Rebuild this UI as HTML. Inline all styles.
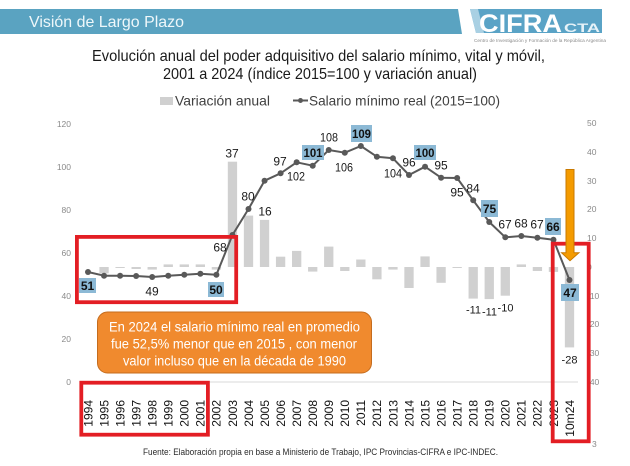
<!DOCTYPE html>
<html><head><meta charset="utf-8"><style>
html,body{margin:0;padding:0;background:#fff;}
svg{display:block;}
text{font-family:"Liberation Sans",Arial,sans-serif;}
</style></head><body>
<svg width="630" height="466" viewBox="0 0 630 466" xmlns="http://www.w3.org/2000/svg">
<rect width="630" height="466" fill="#fff"/>
<!-- header band -->
<polygon points="0,9 458,9 462,34 0,34" fill="#5AA3C1"/>
<text x="29" y="27" font-size="16" fill="#eef7fa" textLength="155" lengthAdjust="spacingAndGlyphs">Visión de Largo Plazo</text>
<!-- logo -->
<polygon points="470,9 602,9 602,33 476,33" fill="#5AA3C6"/>
<polygon points="470,9 478,9 484,33 476,33" fill="#a9d0e3"/>
<text x="479" y="32" font-size="25" font-weight="bold" fill="#fff" textLength="83" lengthAdjust="spacingAndGlyphs">CIFRA</text>
<text x="564" y="32" font-size="12" font-weight="bold" fill="#e6f2f8" textLength="36" lengthAdjust="spacingAndGlyphs">CTA</text>
<text x="474" y="42" font-size="4.5" fill="#8a8a8a" textLength="132" lengthAdjust="spacingAndGlyphs">Centro de Investigación y Formación de la República Argentina</text>
<!-- title -->
<text x="92" y="61" font-size="16" fill="#1a1a1a" textLength="453" lengthAdjust="spacingAndGlyphs">Evolución anual del poder adquisitivo del salario mínimo, vital y móvil,</text>
<text x="163" y="79" font-size="16" fill="#1a1a1a" textLength="314" lengthAdjust="spacingAndGlyphs">2001 a 2024 (índice 2015=100 y variación anual)</text>
<!-- legend -->
<rect x="160" y="97" width="13" height="8" fill="#d0d0d0"/>
<text x="175" y="105.5" font-size="14" fill="#404040" textLength="95" lengthAdjust="spacingAndGlyphs">Variación anual</text>
<line x1="293" y1="100.5" x2="308" y2="100.5" stroke="#595959" stroke-width="2"/>
<circle cx="300.5" cy="100.5" r="2.5" fill="#595959"/>
<text x="309" y="105.5" font-size="14" fill="#404040" textLength="191" lengthAdjust="spacingAndGlyphs">Salario mínimo real (2015=100)</text>
<!-- left axis labels -->
<g font-size="8.5" fill="#8a8a8a" text-anchor="end">
<text x="71" y="127">120</text>
<text x="71" y="170">100</text>
<text x="71" y="213">80</text>
<text x="71" y="256">60</text>
<text x="71" y="299">40</text>
<text x="71" y="342">20</text>
<text x="71" y="385">0</text>
</g>
<!-- right axis labels -->
<g font-size="8.5" fill="#8a8a8a">
<text x="587" y="126">50</text>
<text x="587" y="155">40</text>
<text x="587" y="184">30</text>
<text x="587" y="212">20</text>
<text x="587" y="241">10</text>
<text x="587" y="270">0</text>
<text x="587" y="299">-10</text>
<text x="587" y="327">-20</text>
<text x="587" y="356">-30</text>
<text x="587" y="385">-40</text>
<text x="592" y="447">3</text>
</g>
<!-- gridline -->
<line x1="80" y1="382" x2="578" y2="382" stroke="#d9d9d9" stroke-width="1"/>
<!-- bars -->
<g fill="#d0d0d0">
<rect x="99.4" y="267" width="9.3" height="6.3"/>
<rect x="115.45" y="267" width="9.3" height="1"/>
<rect x="131.5" y="267" width="9.3" height="2"/>
<rect x="147.55" y="267" width="9.3" height="2.6"/>
<rect x="163.6" y="264.4" width="9.3" height="2.6"/>
<rect x="179.65" y="264.4" width="9.3" height="2.6"/>
<rect x="195.7" y="264.4" width="9.3" height="2.6"/>
<rect x="211.75" y="267" width="9.3" height="2.6"/>
<rect x="227.8" y="161.7" width="9.3" height="105.3"/>
<rect x="243.85" y="215.6" width="9.3" height="51.4"/>
<rect x="259.9" y="219.9" width="9.3" height="47.1"/>
<rect x="275.95" y="256.7" width="9.3" height="10.3"/>
<rect x="292" y="250.9" width="9.3" height="16.1"/>
<rect x="308.05" y="267" width="9.3" height="4.6"/>
<rect x="324.1" y="246.6" width="9.3" height="20.4"/>
<rect x="340.15" y="267" width="9.3" height="4"/>
<rect x="356.2" y="259.5" width="9.3" height="7.5"/>
<rect x="372.25" y="267" width="9.3" height="12.3"/>
<rect x="388.3" y="267" width="9.3" height="2.6"/>
<rect x="404.35" y="267" width="9.3" height="21"/>
<rect x="420.4" y="256.4" width="9.3" height="10.6"/>
<rect x="436.45" y="267" width="9.3" height="15.8"/>
<rect x="452.5" y="267" width="9.3" height="1"/>
<rect x="468.55" y="267" width="9.3" height="31.6"/>
<rect x="484.6" y="267" width="9.3" height="32.1"/>
<rect x="500.65" y="267" width="9.3" height="28.7"/>
<rect x="516.7" y="264.4" width="9.3" height="2.6"/>
<rect x="532.75" y="267" width="9.3" height="4"/>
<rect x="548.8" y="267" width="9.3" height="4.9"/>
<rect x="564.85" y="267" width="9.3" height="80.4"/>
</g>
<!-- line -->
<polyline fill="none" stroke="#595959" stroke-width="2" stroke-linejoin="round" points="88,272 104.05,275.7 120.1,275.7 136.15,276 152.2,277 168.25,275.7 184.3,274.7 200.35,273.7 216.4,274.7 232.45,235 248.5,209 264.55,180.7 280.6,173.3 296.65,162.3 312.7,165.7 328.75,150 344.8,152.7 360.85,146 376.9,156.7 392.95,158.3 409,175 425.05,166.7 441.1,177.7 457.15,178 473.2,200.3 489.25,222 505.3,237.3 521.35,236 537.4,237.7 553.45,239.7 569.5,280"/>
<g fill="#595959">
<circle cx="88" cy="272" r="3"/><circle cx="104.05" cy="275.7" r="3"/><circle cx="120.1" cy="275.7" r="3"/><circle cx="136.15" cy="276" r="3"/><circle cx="152.2" cy="277" r="3"/><circle cx="168.25" cy="275.7" r="3"/><circle cx="184.3" cy="274.7" r="3"/><circle cx="200.35" cy="273.7" r="3"/><circle cx="216.4" cy="274.7" r="3"/><circle cx="232.45" cy="235" r="3"/><circle cx="248.5" cy="209" r="3"/><circle cx="264.55" cy="180.7" r="3"/><circle cx="280.6" cy="173.3" r="3"/><circle cx="296.65" cy="162.3" r="3"/><circle cx="312.7" cy="165.7" r="3"/><circle cx="328.75" cy="150" r="3"/><circle cx="344.8" cy="152.7" r="3"/><circle cx="360.85" cy="146" r="3"/><circle cx="376.9" cy="156.7" r="3"/><circle cx="392.95" cy="158.3" r="3"/><circle cx="409" cy="175" r="3"/><circle cx="425.05" cy="166.7" r="3"/><circle cx="441.1" cy="177.7" r="3"/><circle cx="457.15" cy="178" r="3"/><circle cx="473.2" cy="200.3" r="3"/><circle cx="489.25" cy="222" r="3"/><circle cx="505.3" cy="237.3" r="3"/><circle cx="521.35" cy="236" r="3"/><circle cx="537.4" cy="237.7" r="3"/><circle cx="553.45" cy="239.7" r="3"/><circle cx="569.5" cy="280" r="3"/>
</g>
<!-- data labels -->
<g font-size="12" fill="#1a1a1a" text-anchor="middle">
<text x="152" y="295.3">49</text>
<text x="220" y="251.3">68</text>
<text x="232" y="157.3">37</text>
<text x="248" y="200.3">80</text>
<text x="265" y="215.3">16</text>
<text x="280" y="165.3">97</text>
<text x="296" y="180.3" textLength="18" lengthAdjust="spacingAndGlyphs">102</text>
<text x="329" y="141.3" textLength="18" lengthAdjust="spacingAndGlyphs">108</text>
<text x="344" y="171.3" textLength="18" lengthAdjust="spacingAndGlyphs">106</text>
<text x="393" y="177.3" textLength="18" lengthAdjust="spacingAndGlyphs">104</text>
<text x="409" y="166.3">96</text>
<text x="441" y="169.3">95</text>
<text x="457" y="196.3">95</text>
<text x="473" y="192.3">84</text>
<text x="505" y="228.3">67</text>
<text x="521" y="227.3">68</text>
<text x="537" y="228.3">67</text>
<text x="473.5" y="313.3" font-size="11">-11</text>
<text x="489.5" y="315.3" font-size="11">-11</text>
<text x="505.5" y="311.3" font-size="11">-10</text>
<text x="569.5" y="363.3" font-size="11">-28</text>
</g>
<!-- boxed labels -->
<g fill="#8CB9D5">
<rect x="79" y="278" width="17" height="15"/>
<rect x="208" y="282" width="16" height="15"/>
<rect x="302" y="145" width="22" height="15"/>
<rect x="351" y="125" width="21" height="17"/>
<rect x="414" y="145" width="22" height="15"/>
<rect x="481" y="200" width="17" height="17"/>
<rect x="545" y="218" width="16" height="17"/>
<rect x="561" y="284" width="18" height="17"/>
</g>
<g font-size="12" font-weight="bold" fill="#111" text-anchor="middle">
<text x="87.5" y="290">51</text>
<text x="216" y="294">50</text>
<text x="313" y="157" textLength="19" lengthAdjust="spacingAndGlyphs">101</text>
<text x="361.5" y="138" textLength="19" lengthAdjust="spacingAndGlyphs">109</text>
<text x="425" y="157" textLength="19" lengthAdjust="spacingAndGlyphs">100</text>
<text x="489.5" y="213">75</text>
<text x="553" y="231">66</text>
<text x="570" y="297">47</text>
</g>
<!-- callout -->
<rect x="97.5" y="312" width="274" height="61" rx="10" ry="10" fill="#F08A2E" stroke="#C46C1E" stroke-width="1"/>
<g font-size="14" fill="#fff">
<text x="109" y="331.5" textLength="251" lengthAdjust="spacingAndGlyphs">En 2024 el salario mínimo real en promedio</text>
<text x="111" y="348.5" textLength="246" lengthAdjust="spacingAndGlyphs">fue 52,5% menor que en 2015 , con menor</text>
<text x="123" y="365.5" textLength="223" lengthAdjust="spacingAndGlyphs">valor incluso que en la década de 1990</text>
</g>
<!-- x labels -->
<g font-size="12" fill="#111" text-anchor="end">
<text transform="translate(92.3,400) rotate(-90)">1994</text>
<text transform="translate(108.35,400) rotate(-90)">1995</text>
<text transform="translate(124.4,400) rotate(-90)">1996</text>
<text transform="translate(140.45,400) rotate(-90)">1997</text>
<text transform="translate(156.5,400) rotate(-90)">1998</text>
<text transform="translate(172.55,400) rotate(-90)">1999</text>
<text transform="translate(188.6,400) rotate(-90)">2000</text>
<text transform="translate(204.65,400) rotate(-90)">2001</text>
<text transform="translate(220.7,400) rotate(-90)">2002</text>
<text transform="translate(236.75,400) rotate(-90)">2003</text>
<text transform="translate(252.8,400) rotate(-90)">2004</text>
<text transform="translate(268.85,400) rotate(-90)">2005</text>
<text transform="translate(284.9,400) rotate(-90)">2006</text>
<text transform="translate(300.95,400) rotate(-90)">2007</text>
<text transform="translate(317,400) rotate(-90)">2008</text>
<text transform="translate(333.05,400) rotate(-90)">2009</text>
<text transform="translate(349.1,400) rotate(-90)">2010</text>
<text transform="translate(365.15,400) rotate(-90)">2011</text>
<text transform="translate(381.2,400) rotate(-90)">2012</text>
<text transform="translate(397.25,400) rotate(-90)">2013</text>
<text transform="translate(413.3,400) rotate(-90)">2014</text>
<text transform="translate(429.35,400) rotate(-90)">2015</text>
<text transform="translate(445.4,400) rotate(-90)">2016</text>
<text transform="translate(461.45,400) rotate(-90)">2017</text>
<text transform="translate(477.5,400) rotate(-90)">2018</text>
<text transform="translate(493.55,400) rotate(-90)">2019</text>
<text transform="translate(509.6,400) rotate(-90)">2020</text>
<text transform="translate(525.65,400) rotate(-90)">2021</text>
<text transform="translate(541.7,400) rotate(-90)">2022</text>
<text transform="translate(557.75,400) rotate(-90)">2023</text>
<text transform="translate(573.8,400) rotate(-90)">10m24</text>
</g>
<!-- red rectangles -->
<g fill="none" stroke="#E31E24" stroke-width="3.8">
<rect x="76.9" y="236.9" width="159.3" height="65.3"/>
<rect x="81.3" y="382.7" width="126.6" height="52"/>
<rect x="552.7" y="243.7" width="36" height="197.6"/>
</g>
<!-- orange arrow -->
<polygon points="566,169.5 574,169.5 574,252.7 579,252.7 570,260.7 561.5,252.7 566,252.7" fill="#F49B00" stroke="#C97A00" stroke-width="1"/>
<!-- footer -->
<text x="143" y="455" font-size="9" fill="#2b2b2b" textLength="355" lengthAdjust="spacingAndGlyphs">Fuente: Elaboración propia en base a Ministerio de Trabajo, IPC Provincias-CIFRA e IPC-INDEC.</text>
</svg>
</body></html>
